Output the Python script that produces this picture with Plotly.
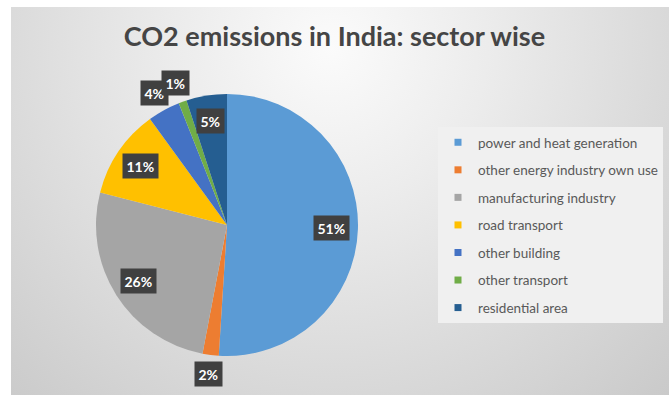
import math, base64
import plotly.graph_objects as go

categories = ["power and heat generation", "other energy industry own use",
              "manufacturing industry", "road transport", "other building",
              "other transport", "residential area"]
shares = [51, 2, 26, 11, 4, 1, 5]
colors = ["#5B9BD5", "#ED7D31", "#A5A5A5", "#FFC000", "#4472C4", "#70AD47", "#255E91"]
title_text = "CO2 emissions in India: sector wise"

W, H = 669, 397
# pie placement (pixels)
pcx, pcy, pr = 227, 225, 131
dom_x = [(pcx - pr) / W, (pcx + pr) / W]
dom_y = [1 - (pcy + pr) / H, 1 - (pcy - pr) / H]

fig = go.Figure()
fig.add_trace(go.Pie(
    labels=categories, values=shares, sort=False, direction="clockwise",
    rotation=0, marker=dict(colors=colors, line=dict(width=0)),
    textinfo="none", hoverinfo="label+percent", showlegend=False,
    domain=dict(x=dom_x, y=dom_y),
))

# legend entries (one per category, styled like Excel)
for name, col in zip(categories, colors):
    fig.add_trace(go.Scatter(
        x=[None], y=[None], mode="markers", name=name, legendgroup=name,
        marker=dict(symbol="square", size=7, color=col),
    ))

# data labels computed from the slice angles
total = sum(shares)
cum = 0
cxp = (dom_x[0] + dom_x[1]) / 2
cyp = (dom_y[0] + dom_y[1]) / 2
for v in shares:
    mid = (cum + v / 2) / total * 2 * math.pi
    cum += v
    frac = v / total
    k = 1.15 if frac < 0.045 else 0.8
    ax = cxp + k * pr * math.sin(mid) / W
    ay = cyp + k * pr * math.cos(mid) / H
    fig.add_annotation(
        x=ax, y=ay, xref="paper", yref="paper", showarrow=False,
        xanchor="center", yanchor="middle",
        text="<b>%d%%</b>" % round(frac * 100),
        font=dict(family="Lato", size=14, color="white"),
        bgcolor="#404040", borderpad=3.5,
    )

# gradient background (Excel-style chart area)
svg = ('<svg xmlns="http://www.w3.org/2000/svg" width="658" height="388">'
       '<defs><radialGradient id="g" gradientUnits="userSpaceOnUse" cx="320" cy="40" r="520">'
       '<stop offset="0" stop-color="#fbfbfb"/><stop offset="0.3" stop-color="#ececec"/>'
       '<stop offset="1" stop-color="#c6c6c6"/></radialGradient></defs>'
       '<rect width="658" height="388" fill="url(#g)"/></svg>')
src = "data:image/svg+xml;base64," + base64.b64encode(svg.encode()).decode()
fig.add_layout_image(dict(source=src, xref="paper", yref="paper",
                          x=11 / W, y=1 - 7 / H, sizex=658 / W, sizey=388 / H,
                          sizing="stretch", layer="below", xanchor="left", yanchor="top"))

fig.update_layout(
    width=W, height=H, margin=dict(l=0, r=0, t=0, b=0),
    paper_bgcolor="white", plot_bgcolor="rgba(0,0,0,0)",
    xaxis=dict(visible=False), yaxis=dict(visible=False),
    title=dict(text="<b>" + title_text + "</b>", x=0.5, xanchor="center", y=1 - 37 / H,
               yanchor="middle",
               font=dict(family="Lato", size=27, color="#454545")),
    legend=dict(x=438 / W, y=1 - 127 / H, xanchor="left", yanchor="top",
                bgcolor="#f0f0f0", font=dict(family="Lato", size=13.5, color="#595959"),
                tracegroupgap=7, itemwidth=30),
    showlegend=True,
)

fig.write_html("out.html")
